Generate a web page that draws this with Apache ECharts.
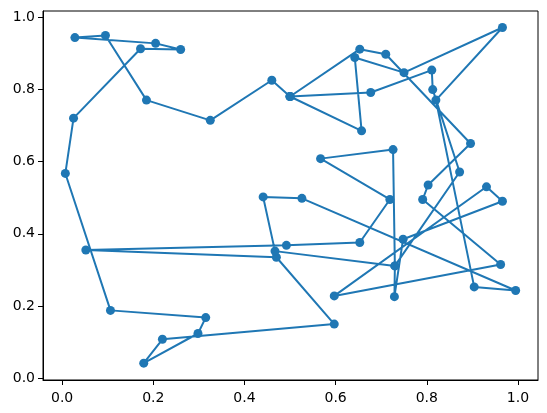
<!DOCTYPE html>
<html>
<head>
<meta charset="utf-8">
<script src="https://cdn.jsdelivr.net/npm/echarts@6/dist/echarts.min.js"></script>
<style>
  html, body { margin: 0; padding: 0; background: #fff; }
  #chart { width: 547px; height: 413px; }
</style>
</head>
<body>
<div id="chart"></div>
<script>
// points in the order the line visits them
const xValues = [
  0.500, 0.460, 0.325, 0.185, 0.095, 0.028, 0.205, 0.260, 0.172, 0.025,
  0.007, 0.106, 0.315, 0.298, 0.179, 0.220, 0.597, 0.470, 0.052, 0.492,
  0.653, 0.719, 0.567, 0.726, 0.730, 0.467, 0.441, 0.526, 0.995, 0.904,
  0.820, 0.966, 0.750, 0.642, 0.657, 0.500, 0.677, 0.811, 0.813, 0.872,
  0.730, 0.729, 0.748, 0.966, 0.931, 0.597, 0.962, 0.791, 0.803, 0.896,
  0.710, 0.653, 0.500
];
const yValues = [
  0.780, 0.825, 0.714, 0.770, 0.949, 0.943, 0.927, 0.910, 0.912, 0.720,
  0.567, 0.188, 0.168, 0.124, 0.042, 0.108, 0.150, 0.335, 0.355, 0.368,
  0.376, 0.495, 0.608, 0.633, 0.311, 0.352, 0.502, 0.498, 0.243, 0.253,
  0.770, 0.971, 0.846, 0.888, 0.685, 0.780, 0.791, 0.853, 0.799, 0.571,
  0.311, 0.226, 0.385, 0.490, 0.530, 0.228, 0.315, 0.495, 0.535, 0.650,
  0.897, 0.911, 0.780
];
const xTicks = [0, 0.2, 0.4, 0.6, 0.8, 1.0];
const yTicks = [0, 0.2, 0.4, 0.6, 0.8, 1.0];

const chart = echarts.init(document.getElementById("chart"));
const points = xValues.map((x, i) => [x, yValues[i]]);

const axisCommon = {
  type: "value",
  splitLine: { show: false },
  axisLine: { show: true, onZero: false, lineStyle: { color: "#000", width: 1 } },
  axisTick: {
    show: true,
    inside: false,
    length: 5,
    lineStyle: { color: "#000", width: 1 },
  },
  axisLabel: {
    color: "#000",
    fontFamily: "DejaVu Sans",
    fontSize: 14,
    formatter: (v) => v.toFixed(1),
  },
};

const option = {
  animation: false,
  backgroundColor: "#fff",
  grid: {
    left: 43,
    right: 9,
    top: 11,
    bottom: 33,
    show: true,
    borderColor: "#000",
    borderWidth: 1,
  },
  xAxis: Object.assign({}, axisCommon, {
    min: -0.042,
    max: 1.044,
    axisTick: Object.assign({}, axisCommon.axisTick, { customValues: xTicks }),
    axisLabel: Object.assign({}, axisCommon.axisLabel, { customValues: xTicks, margin: 11 }),
  }),
  yAxis: Object.assign({}, axisCommon, {
    min: -0.0047,
    max: 1.0166,
    axisTick: Object.assign({}, axisCommon.axisTick, { customValues: yTicks }),
    axisLabel: Object.assign({}, axisCommon.axisLabel, { customValues: yTicks, margin: 8 }),
  }),
  series: [
    {
      type: "line",
      data: points,
      symbol: "circle",
      symbolSize: 9,
      showAllSymbol: true,
      itemStyle: { color: "#1f77b4" },
      lineStyle: { color: "#1f77b4", width: 2 },
    },
  ],
};
chart.setOption(option);
</script>
</body>
</html>
